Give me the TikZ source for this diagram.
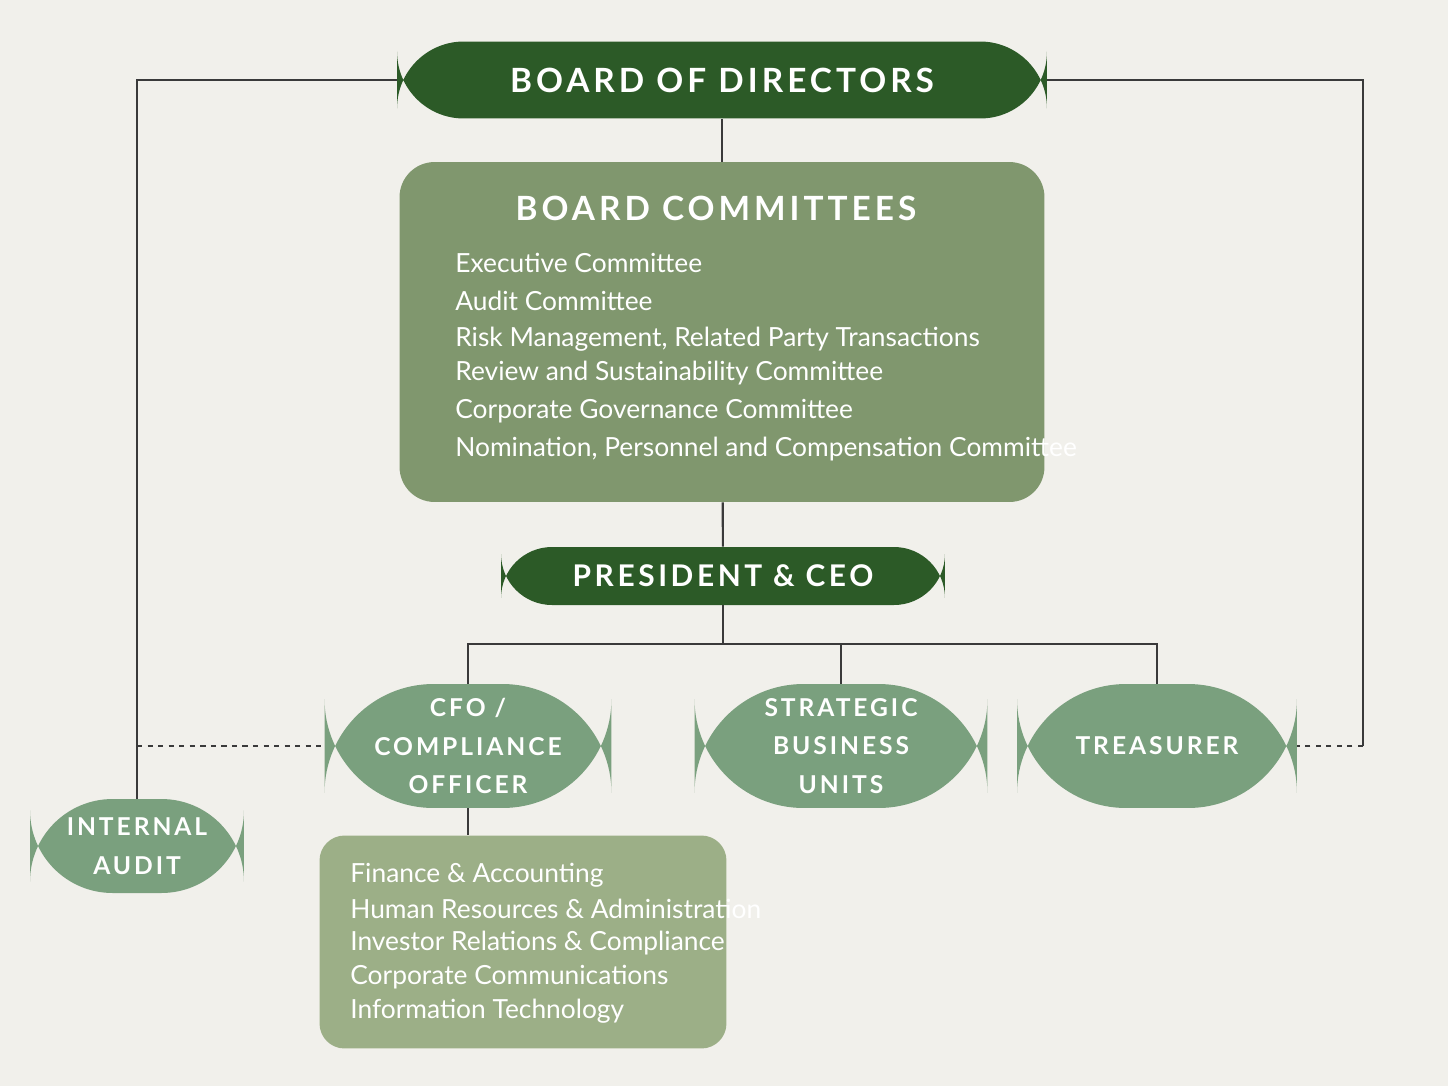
\documentclass[tikz,border=0pt]{standalone}
\usepackage{fontspec}
\setmainfont{Lato}
\newfontfamily\capsfont[LetterSpace=12]{Lato Bold}
\definecolor{bgcol}{HTML}{F1F0EB}
\definecolor{darkgreen}{HTML}{2C5A27}
\definecolor{comgreen}{HTML}{80976E}
\definecolor{pillgreen}{HTML}{7AA07E}
\definecolor{listgreen}{HTML}{9CAF87}
\definecolor{linecol}{HTML}{3A3A3A}
\begin{document}
\begin{tikzpicture}[x=0.02cm, y=-0.02cm,
    pill/.style={rounded corners=#1, inner sep=0pt, text=white, align=center, font=\capsfont\fontsize{14}{22}\selectfont},
    link/.style={draw=linecol, line width=1.2pt},
    item/.style={anchor=west, inner sep=0pt, text=white, font=\fontsize{15}{18}\selectfont}]
\fill[bgcol] (0,0) rectangle (1448,1086);
\node[pill=38, fill=darkgreen, minimum width=13cm, minimum height=1.54cm, font=\capsfont\fontsize{19}{22}\selectfont] (board) at (722,80) {BOARD OF DIRECTORS};
\node[fill=comgreen, rounded corners=0.7cm, minimum width=12.9cm, minimum height=6.8cm] (committees) at (722,332) {};
\node[text=white, font=\capsfont\fontsize{19}{22}\selectfont] (comtitle) at (716,208) {BOARD COMMITTEES};
\node[item] (com1) at (455,263) {Executive Committee};
\node[item] (com2) at (455,301) {Audit Committee};
\node[item] (com3) at (455,339) {Risk Management, Related Party Transactions};
\node[item] (com4) at (455,373) {Review and Sustainability Committee};
\node[item] (com5) at (455,411) {Corporate Governance Committee};
\node[item] (com6) at (455,449) {Nomination, Personnel and Compensation Committee};
\node[pill=29, fill=darkgreen, minimum width=8.88cm, minimum height=1.16cm, font=\capsfont\fontsize{17}{22}\selectfont] (ceo) at (723,576) {PRESIDENT \& CEO};
\node[pill=62, fill=pillgreen, minimum width=5.74cm, minimum height=2.48cm] (cfo) at (468,746) {CFO /\\COMPLIANCE\\OFFICER};
\node[pill=62, fill=pillgreen, minimum width=5.86cm, minimum height=2.48cm] (sbu) at (841,746) {STRATEGIC\\BUSINESS\\UNITS};
\node[pill=62, fill=pillgreen, minimum width=5.6cm, minimum height=2.48cm] (treasurer) at (1157,746) {TREASURER};
\node[pill=47, fill=pillgreen, minimum width=4.28cm, minimum height=1.88cm] (audit) at (137,846) {INTERNAL\\AUDIT};
\node[fill=listgreen, rounded corners=0.5cm, minimum width=8.14cm, minimum height=4.26cm] (depts) at (523,942) {};
\node[item] (dep1) at (350,875) {Finance \& Accounting};
\node[item] (dep2) at (350,909) {Human Resources \& Administration};
\node[item] (dep3) at (350,943) {Investor Relations \& Compliance};
\node[item] (dep4) at (350,977) {Corporate Communications};
\node[item] (dep5) at (350,1011) {Information Technology};
\coordinate (split) at (723,644);
\coordinate (leftcorner) at (137,80);
\coordinate (rightcorner) at (1363,80);
\coordinate (leftjoin) at (137,746);
\coordinate (rightjoin) at (1363,746);
\draw[link] (board) -- (committees);
\draw[link] (committees) -- (ceo);
\draw[link] (ceo) -- (split);
\draw[link] (cfo.north) |- (split) -| (treasurer.north);
\draw[link] (split -| sbu.north) -- (sbu.north);
\draw[link] (cfo.south) -- (cfo.south |- depts.north);
\draw[link] (board.west) -- (leftcorner) -- (audit.north);
\draw[link] (board.east) -- (rightcorner) -- (rightjoin);
\draw[link, dashed] (leftjoin) -- (cfo.west);
\draw[link, dashed] (rightjoin) -- (treasurer.east);
\end{tikzpicture}
\end{document}
